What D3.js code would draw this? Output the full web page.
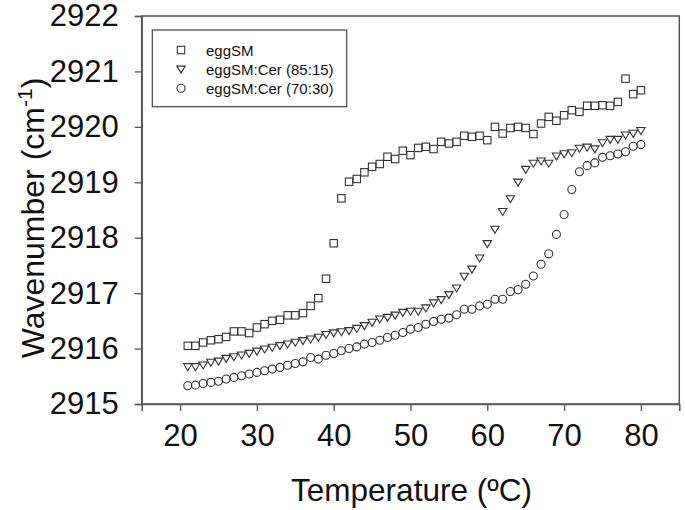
<!DOCTYPE html>
<html><head><meta charset="utf-8">
<script src="https://cdn.jsdelivr.net/npm/d3@7"></script>
<style>body{margin:0;background:#fff}svg{display:block}text{font-family:"Liberation Sans",Arial,sans-serif;fill:#111}</style>
</head><body><svg id="c" width="685" height="510"></svg>
<script>
const temps = d3.range(21, 81);
const eggSM = [2916.05,2916.05,2916.11,2916.15,2916.17,2916.21,2916.31,2916.31,2916.28,2916.38,
2916.44,2916.50,2916.52,2916.60,2916.60,2916.64,2916.77,2916.91,2917.26,2917.90,
2918.71,2919.01,2919.06,2919.18,2919.28,2919.33,2919.46,2919.42,2919.57,2919.49,
2919.62,2919.64,2919.60,2919.73,2919.70,2919.73,2919.84,2919.82,2919.84,2919.76,
2920.00,2919.88,2919.98,2920.00,2919.98,2919.87,2920.06,2920.18,2920.11,2920.21,
2920.30,2920.27,2920.38,2920.38,2920.39,2920.38,2920.45,2920.87,2920.59,2920.66];
const cer85 = [2915.67,2915.67,2915.70,2915.75,2915.77,2915.82,2915.85,2915.88,2915.91,2915.95,
2915.99,2916.02,2916.05,2916.08,2916.11,2916.14,2916.17,2916.20,2916.25,2916.28,
2916.30,2916.32,2916.36,2916.41,2916.47,2916.53,2916.56,2916.60,2916.65,2916.67,
2916.67,2916.73,2916.82,2916.88,2916.97,2917.09,2917.30,2917.43,2917.63,2917.89,
2918.15,2918.47,2918.70,2919.00,2919.23,2919.34,2919.38,2919.34,2919.47,2919.51,
2919.53,2919.61,2919.63,2919.60,2919.71,2919.77,2919.77,2919.85,2919.88,2919.93];
const cer70 = [2915.33,2915.34,2915.37,2915.39,2915.41,2915.45,2915.48,2915.51,2915.54,2915.57,
2915.60,2915.63,2915.66,2915.70,2915.73,2915.76,2915.84,2915.81,2915.88,2915.91,
2915.96,2916.00,2916.03,2916.08,2916.11,2916.15,2916.20,2916.24,2916.29,2916.35,
2916.38,2916.44,2916.49,2916.53,2916.55,2916.61,2916.71,2916.71,2916.77,2916.80,
2916.89,2916.89,2917.03,2917.06,2917.16,2917.31,2917.52,2917.71,2918.06,2918.42,
2918.87,2919.19,2919.30,2919.35,2919.45,2919.48,2919.51,2919.55,2919.65,2919.68];
const seriesNames = ["eggSM","eggSM:Cer (85:15)","eggSM:Cer (70:30)"];
const xTicks = [20,30,40,50,60,70,80];
const yTicks = [2915,2916,2917,2918,2919,2920,2921,2922];

const svg = d3.select("#c");
const L=141.7, R=679.3, T=16, B=404;
const x = d3.scaleLinear().domain([15,85]).range([L,R]);
const y = d3.scaleLinear().domain([2915,2922]).range([B,T]);
const ink = "#333";

svg.append("rect").attr("x",L).attr("y",T).attr("width",R-L).attr("height",B-T)
  .attr("fill","none").attr("stroke","#555").attr("stroke-width",1.5);

const xa = svg.append("g").attr("transform",`translate(0,${B})`)
  .call(d3.axisBottom(x).tickValues(xTicks).tickSize(7).tickPadding(13).tickFormat(d3.format("d")));
const ya = svg.append("g").attr("transform",`translate(${L},0)`)
  .call(d3.axisLeft(y).tickValues(yTicks).tickSize(7).tickPadding(16).tickFormat(d3.format("d")));
[xa,ya].forEach(a=>{
  a.select(".domain").attr("stroke","#555").attr("stroke-width",1.5);
  a.selectAll(".tick line").attr("stroke","#555").attr("stroke-width",1.3);
  a.selectAll("text").style("font-size","31px").style("font-family",'"Liberation Sans",Arial,sans-serif').attr("fill","#111");
});

svg.append("text").attr("x",(L+R)/2+1).attr("y",501).attr("text-anchor","middle")
  .style("font-size","31.5px").text("Temperature (ºC)");
const yt = svg.append("text").attr("transform","translate(44,218) rotate(-90)").attr("text-anchor","middle")
  .style("font-size","32px");
yt.append("tspan").text("Wavenumber (cm");
yt.append("tspan").attr("dy",-12).style("font-size","21px").text("-1");
yt.append("tspan").attr("dy",12).text(")");

const sq = 7.4;
const tri = "M-4.2,-3.2L4.2,-3.2L0,3.8Z";
function drawMarker(g, kind, cx, cy){
  if(kind===0) g.append("rect").attr("x",cx-sq/2).attr("y",cy-sq/2).attr("width",sq).attr("height",sq);
  else if(kind===1) g.append("path").attr("d",tri).attr("transform",`translate(${cx},${cy})`);
  else g.append("circle").attr("cx",cx).attr("cy",cy).attr("r",4);
}
const gm = svg.append("g").attr("fill","none").attr("stroke",ink).attr("stroke-width",1.1);
[eggSM,cer85,cer70].forEach((vals,k)=>{
  vals.forEach((v,i)=>drawMarker(gm,k,x(temps[i]),y(v)));
});

svg.append("rect").attr("x",152.3).attr("y",30).attr("width",194.4).attr("height",76.7)
  .attr("fill","#fff").attr("stroke","#444").attr("stroke-width",1.2);
const lg = svg.append("g").attr("fill","none").attr("stroke",ink).attr("stroke-width",1.1);
const rows=[50,69.3,88.3];
seriesNames.forEach((n,k)=>{
  drawMarker(lg,k,181,rows[k]);
  svg.append("text").attr("x",206).attr("y",rows[k]+5.5).style("font-size","15px").text(n);
});
</script></body></html>
